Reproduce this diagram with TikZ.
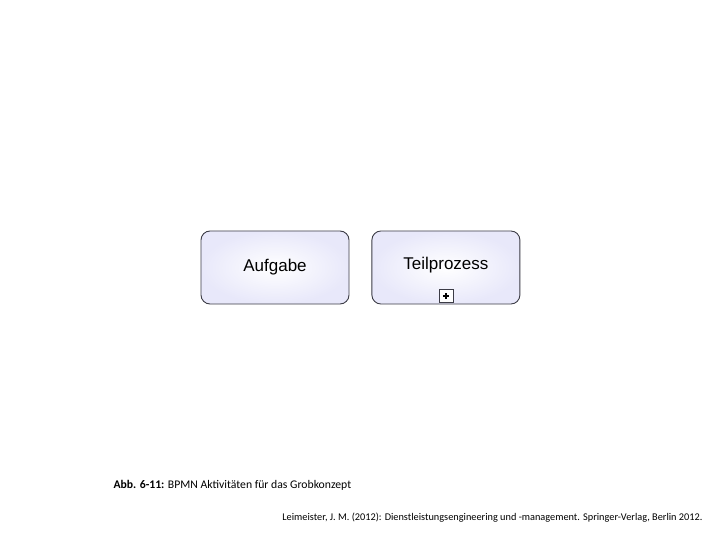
\documentclass[tikz,border=0pt]{standalone}
\usepackage{fontspec}
\setmainfont{Carlito}
\newfontfamily\arialfont{Liberation Sans}
\usetikzlibrary{positioning}

\definecolor{taskfill}{RGB}{232,232,250}
\definecolor{taskline}{RGB}{60,60,70}

\tikzset{
    task/.style={draw=taskline, line width=0.9pt, rounded corners=9pt,
        minimum width=148pt, minimum height=73pt, inner color=white,
        outer color=taskfill, font=\arialfont\fontsize{17}{20}\selectfont},
    marker/.style={draw=taskline, line width=0.7pt, fill=white,
        minimum width=14pt, minimum height=13pt, inner sep=0pt}
}

\begin{document}
\begin{tikzpicture}[x=1pt, y=-1pt]

    % Keep the page at 720 x 540
    \useasboundingbox (0,0) rectangle (720,540);

    % Draw the two BPMN activities
    \node[task] (aufgabe) at (275,267.5) {Aufgabe};
    \node[task, right=22pt of aufgabe] (teil) {};
    \node[font=\arialfont\fontsize{17}{20}\selectfont] (teiltext)
        at ([yshift=2pt]teil.center) {Teilprozess};

    % Collapsed sub-process marker
    \node[marker, above=1.5pt of teil.south] (plus) {};
    \draw[line width=1.4pt] ([xshift=-3pt]plus.center) -- ([xshift=3pt]plus.center);
    \draw[line width=1.4pt] ([yshift=-3pt]plus.center) -- ([yshift=3pt]plus.center);

    % Caption and source
    \node[anchor=west, font=\fontsize{11.7}{14}\selectfont] (caption) at (110,485)
        {\textbf{Abb. 6-11:} BPMN Aktivitäten für das Grobkonzept};
    \node[anchor=east, font=\fontsize{10.3}{12}\selectfont] (source) at (706,518)
        {Leimeister, J. M. (2012): Dienstleistungsengineering und -management. Springer-Verlag, Berlin 2012.};

\end{tikzpicture}
\end{document}
